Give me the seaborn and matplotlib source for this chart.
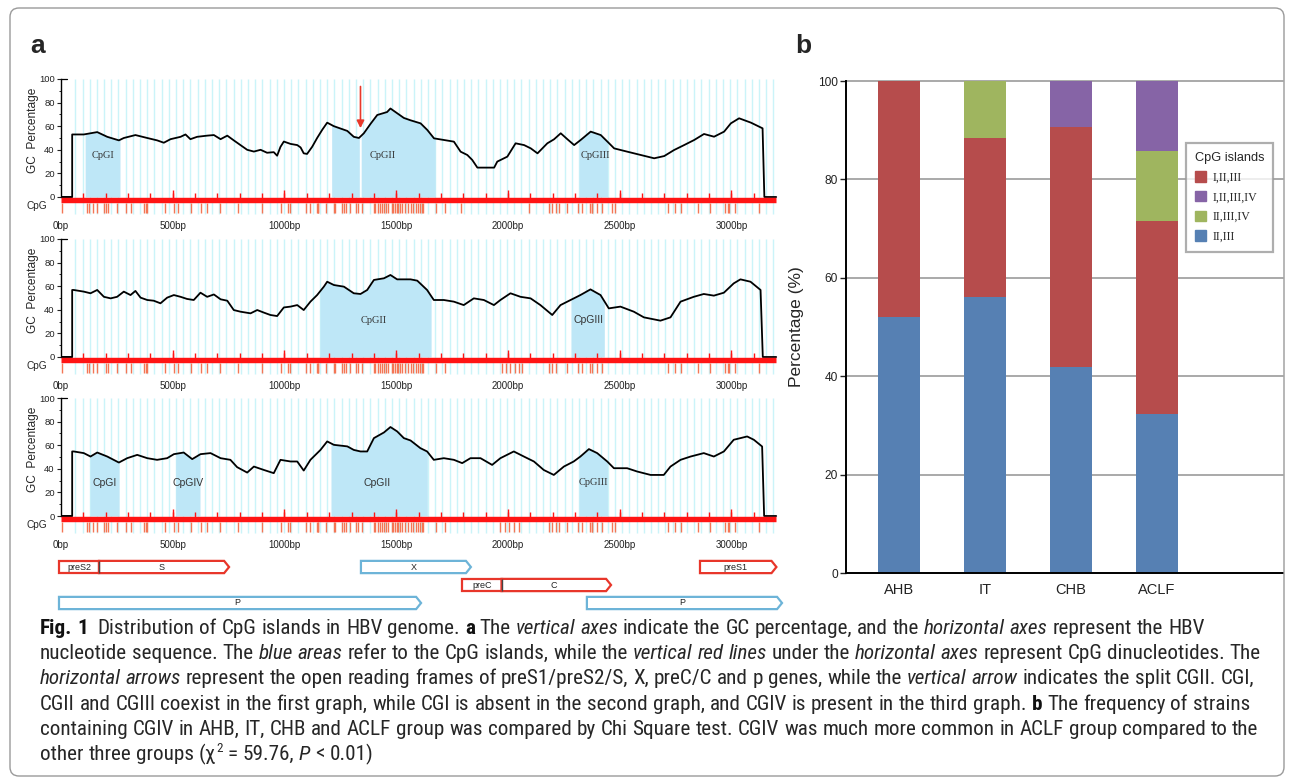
import os
import numpy as np
import pandas as pd
import matplotlib
matplotlib.use("Agg")
import matplotlib.pyplot as plt
import seaborn as sns
from matplotlib.patches import Polygon, FancyBboxPatch, Patch
from matplotlib.transforms import IdentityTransform, blended_transform_factory
from matplotlib import font_manager

# ---------------------------------------------------------------- data ----
# GC percentage curves (position in bp, GC %)
gc1_bp = [0, 50, 50, 57, 102, 162, 207, 259, 281, 333, 386, 430, 460, 490, 535, 557, 579, 609,
          654, 684, 714, 744, 773, 803, 833, 863, 893, 922, 952, 967, 982, 997, 1027, 1057, 1072,
          1086, 1101, 1124, 1146, 1169, 1191, 1221, 1251, 1281, 1310, 1333, 1355, 1385, 1415,
          1459, 1474, 1504, 1534, 1564, 1609, 1639, 1669, 1714, 1758, 1788, 1818, 1840, 1863,
          1938, 1952, 1997, 2034, 2072, 2102, 2132, 2176, 2206, 2236, 2266, 2296, 2325, 2370,
          2415, 2445, 2475, 2534, 2594, 2654, 2699, 2743, 2788, 2833, 2877, 2922, 2967, 2997,
          3034, 3087, 3139, 3147, 3200]
gc1_val = [0, 0, 53, 53, 53, 55, 51, 48, 50, 52.5, 50, 48, 46, 49, 51, 53, 49, 51,
           52, 52.5, 49, 52, 48, 44, 40, 38.5, 40, 37.5, 38, 35, 42.5, 47, 45, 44, 42,
           37, 36.5, 42.6, 50, 57, 63, 60, 58, 56, 51, 50, 54, 62, 69.5,
           72, 75, 71, 67, 65, 62.4, 56.8, 49.7, 48.3, 46.9, 38.4, 35.6, 31.4, 24.9,
           24.9, 30, 34.2, 45.5, 44, 41.2, 37, 45.5, 48.9, 54, 48.9, 44, 48.3, 55.4,
           52.5, 46.9, 41.2, 38.4, 35.6, 32.8, 34.7, 39.8, 44, 48.3, 53.4, 51.1, 55.4, 62.4,
           66.7, 63, 58.2, 0, 0]

gc2_bp = [0, 50, 50, 57, 102, 132, 162, 192, 222, 251, 281, 311, 333, 356, 386, 415, 445, 475,
          505, 535, 564, 594, 624, 654, 684, 714, 744, 773, 803, 848, 878, 908, 937, 967, 997,
          1027, 1057, 1086, 1116, 1146, 1176, 1191, 1221, 1266, 1310, 1340, 1370, 1400, 1445,
          1474, 1504, 1534, 1564, 1594, 1638, 1668, 1713, 1758, 1802, 1847, 1892, 1937, 1966,
          2011, 2056, 2101, 2145, 2198, 2235, 2280, 2324, 2369, 2414, 2451, 2503, 2563, 2608,
          2682, 2727, 2772, 2831, 2876, 2921, 2966, 3010, 3040, 3085, 3130, 3140, 3200]
gc2_val = [0, 0, 56.8, 56.8, 55.4, 54, 56.8, 51, 49.7, 51, 55.4, 52.5, 56, 50.3, 48.3, 47.7, 45.5, 50.3,
           52.5, 51, 49.2, 48.3, 54.5, 51, 53, 48.9, 47.7, 39.8, 38.4, 37, 39.8, 37.6, 35.6, 34.7, 42,
           42.7, 44, 39.8, 46.9, 52.5, 59.6, 63.8, 61, 59.6, 54, 53.4, 56.8, 65.3, 66.7,
           69.5, 65.8, 65.8, 65.8, 64.7, 56.8, 48.3, 48.3, 46.9, 44, 49.7, 48.3, 44, 48.3,
           54, 51, 49.7, 44, 35.6, 44, 48.3, 52.5, 57.3, 52.5, 41.2, 42.7, 38.4, 33.6,
           30.8, 33.6, 46.9, 51, 53.4, 52, 54.5, 62.4, 65.8, 63.8, 56.8, 0, 0]

gc3_bp = [0, 50, 50, 57, 102, 132, 162, 207, 259, 296, 341, 386, 430, 475, 505, 549, 587, 624,
          669, 714, 758, 788, 833, 863, 908, 952, 982, 1027, 1057, 1086, 1116, 1161, 1191, 1221,
          1281, 1310, 1340, 1370, 1400, 1445, 1474, 1504, 1534, 1564, 1608, 1638, 1668, 1713,
          1758, 1795, 1832, 1877, 1929, 1966, 2026, 2071, 2116, 2160, 2205, 2250, 2294, 2324,
          2362, 2399, 2444, 2474, 2533, 2578, 2638, 2697, 2727, 2772, 2817, 2876, 2921, 2966,
          3010, 3070, 3100, 3137, 3146, 3200]
gc3_val = [0, 0, 54.7, 54.7, 53.3, 50.4, 53.8, 50.4, 45.3, 49, 51.8, 49, 47.6, 49, 52.4, 53.8, 48.2, 52.4,
           53.3, 49, 47.6, 41.4, 36.8, 41.9, 39, 36.3, 47.6, 46.2, 46.2, 38.5, 47.6, 56, 63.2, 60.3,
           59, 56, 54.7, 54.7, 66, 70.8, 75.4, 71.7, 66, 64, 57.5, 54.7, 47.6, 49,
           47.6, 44.8, 49, 49, 43.3, 49, 54.7, 50.4, 46.2, 39, 34.8, 41.9, 46.2, 50.4,
           56.7, 53.3, 46.2, 40.5, 40.5, 37.7, 34.8, 34.8, 41.9, 47.6, 50.4, 53.3, 50.4, 54.7,
           64.6, 67.4, 64.6, 58.9, 0, 0]

# CpG dinucleotide positions (bp)
cpg1 = [6, 118, 127, 145, 162, 192, 200, 212, 252, 289, 312, 371, 379, 386, 465, 504, 522, 582,
        625, 652, 710, 791, 901, 984, 1017, 1025, 1095, 1114, 1144, 1149, 1151, 1184, 1221, 1226,
        1256, 1266, 1274, 1293, 1319, 1330, 1346, 1400, 1405, 1420, 1427, 1438, 1447, 1454, 1465,
        1480, 1487, 1494, 1502, 1509, 1517, 1527, 1539, 1554, 1565, 1576, 1588, 1599, 1606, 1614,
        1621, 1676, 1718, 1788, 2095, 2183, 2198, 2213, 2228, 2265, 2315, 2332, 2367, 2374, 2377,
        2397, 2419, 2467, 2479, 2717, 2747, 2773, 2851, 2904, 2971, 2983, 2990, 3016, 3123]
cpg2 = [6, 118, 127, 145, 162, 200, 212, 252, 289, 312, 371, 379, 386, 465, 504, 522, 582,
        625, 652, 710, 791, 901, 984, 1017, 1025, 1095, 1114, 1144, 1149, 1151, 1184, 1221, 1226,
        1256, 1266, 1274, 1293, 1319, 1330, 1346, 1400, 1405, 1420, 1427, 1438, 1447, 1454, 1465,
        1480, 1487, 1494, 1502, 1509, 1517, 1527, 1539, 1554, 1565, 1576, 1588, 1599, 1606, 1614,
        1621, 1676, 1718, 1975, 1990, 2010, 2030, 2050, 2063, 2183, 2198, 2213, 2265, 2315, 2332,
        2367, 2374, 2397, 2419, 2717, 2747, 2773, 2851, 2904, 2971, 2983, 2990, 3016, 3123]
cpg3 = [6, 118, 127, 145, 162, 192, 200, 212, 252, 289, 312, 371, 379, 386, 465, 504, 522, 582,
        625, 652, 710, 791, 901, 984, 1017, 1025, 1095, 1114, 1144, 1149, 1151, 1184, 1221, 1226,
        1256, 1266, 1274, 1293, 1319, 1330, 1346, 1400, 1405, 1420, 1427, 1438, 1447, 1454, 1465,
        1480, 1487, 1494, 1502, 1509, 1517, 1527, 1539, 1554, 1565, 1576, 1588, 1599, 1606, 1614,
        1621, 1676, 1718, 1966, 1985, 2005, 2025, 2048, 2183, 2198, 2213, 2228, 2265, 2315, 2332,
        2367, 2374, 2377, 2397, 2419, 2467, 2479, 2717, 2747, 2773, 2851, 2904, 2971, 2983, 2990,
        3016, 3123]

# CpG islands (start, end in bp) and their labels
isl1_start = [108, 1211, 1343, 2318]
isl1_end = [264, 1337, 1674, 2445]
lab1_text = ["CpGI", "CpGII", "CpGIII"]
lab1_bp = [188, 1439, 2390]
lab1_y = [35, 35, 35]
lab1_serif = [True, True, True]

isl2_start = [1159, 2282]
isl2_end = [1656, 2431]
lab2_text = ["CpGII", "CpGIII"]
lab2_bp = [1401, 2360]
lab2_y = [31, 31]
lab2_serif = [True, False]

isl3_start = [130, 513, 1208, 2318]
isl3_end = [260, 622, 1639, 2445]
lab3_text = ["CpGI", "CpGIV", "CpGII", "CpGIII"]
lab3_bp = [197, 570, 1413, 2382]
lab3_y = [28, 28, 28, 28]
lab3_serif = [False, False, False, True]

split_arrow_bp = 1340          # vertical arrow in graph 1

x_ticks_bp = [0, 500, 1000, 1500, 2000, 2500, 3000]
x_tick_labels = ["0bp", "500bp", "1000bp", "1500bp", "2000bp", "2500bp", "3000bp"]
y_ticks = [0, 20, 40, 60, 80, 100]

# genes (open reading frames)
gene_names = ["preS2", "S", "X", "preC", "C", "preS1", "P", "P"]
gene_start = [-9, 170, 1342, 1794, 1971, 2859, -9, 2353]
gene_end = [170, 752, 1834, 1971, 2461, 3201, 1611, 3226]
gene_row = [0, 0, 0, 1, 1, 0, 2, 2]
gene_color = ["red", "red", "blue", "red", "red", "red", "blue", "blue"]
gene_arrow = [False, True, True, False, True, True, True, True]

# panel b: stacked percentages
groups = ["AHB", "IT", "CHB", "ACLF"]
pct_II_III = [52.0, 56.0, 41.8, 32.4]
pct_I_II_III = [48.0, 32.4, 48.9, 39.1]
pct_II_III_IV = [0.0, 11.6, 0.0, 14.2]
pct_I_II_III_IV = [0.0, 0.0, 9.3, 14.3]
legend_labels = ["I,II,III", "I,II,III,IV", "II,III,IV", "II,III"]

# ------------------------------------------------------------- styling ----
sns.set_theme(style="white")
plt.rcParams["font.family"] = ["Liberation Sans", "DejaVu Sans"]

W, H = 1292, 783
fig = plt.figure(figsize=(W / 100, H / 100), dpi=100)
fig.patch.set_facecolor("white")

C_BLUE_BAR = "#5680b3"
C_RED_BAR = "#b64c4c"
C_GREEN_BAR = "#9fb55f"
C_PURPLE_BAR = "#8664a6"
C_FILL = "#bee7f7"
C_GRID = "#cbf4f9"
C_RED = "#ff1414"
C_CPG = "#f47655"

AX_L = 61
PPB = 0.2235                       # pixels per bp
XMAX = 3215
AX_W = XMAX * PPB


def gc_axes(top_px, zero_px):
    ppu = (zero_px - top_px) / 100.0
    bottom_px = zero_px + 15 * ppu
    ax = fig.add_axes([AX_L / W, 1 - bottom_px / H, AX_W / W, (bottom_px - top_px) / H])
    ax.set_xlim(0, XMAX)
    ax.set_ylim(-15, 100)
    ax.set_facecolor("none")
    return ax


def draw_gc(ax, bp, val, cpg, starts, ends, labels, lab_bp, lab_y, lab_serif):
    bp = np.asarray(bp, float)
    val = np.asarray(val, float)
    ax.vlines(np.arange(64, 3200, 32.2), -14, 100, color=C_GRID, lw=1.0, zorder=0)
    for a, b in zip(starts, ends):
        inner = bp[(bp > a) & (bp < b)]
        xs = np.concatenate([[a], inner, [b]])
        ys = np.interp(xs, bp, val)
        ax.fill_between(xs, 0, ys, color=C_FILL, lw=0, zorder=1)
    for t, xb, yb, serif in zip(labels, lab_bp, lab_y, lab_serif):
        fam = ["Liberation Serif", "DejaVu Serif"] if serif else ["Liberation Sans", "DejaVu Sans"]
        ax.text(xb, yb, t, ha="center", va="center", fontsize=7.5, family=fam,
                color="#333333", zorder=2)
    df = pd.DataFrame({"bp": bp, "gc": val})
    sns.lineplot(data=df, x="bp", y="gc", ax=ax, color="black", lw=1.3,
                 estimator=None, sort=False, zorder=3)
    ax.hlines(-2.3, 0, 3200, color=C_RED, lw=3.9, zorder=4)
    ax.vlines(np.arange(100, 3200, 100), -2.3, 3.4, color=C_RED, lw=1.0, zorder=4)
    ax.vlines(np.arange(500, 3200, 500), -2.3, 5.6, color=C_RED, lw=1.0, zorder=4)
    ax.vlines(cpg, -4.8, -13.8, color=C_CPG, lw=1.0, zorder=4)
    for s in ["top", "right", "bottom"]:
        ax.spines[s].set_visible(False)
    ax.spines["left"].set_bounds(0, 100)
    ax.spines["left"].set_color("black")
    ax.spines["left"].set_linewidth(1.0)
    ax.set_yticks(y_ticks)
    ax.set_yticks([10, 30, 50, 70, 90], minor=True)
    ax.tick_params(axis="y", which="major", direction="out", length=3, width=0.8,
                   labelsize=6.8, pad=1.5, colors="#222222", left=True)
    ax.tick_params(axis="y", which="minor", direction="out", length=1.8, width=0.7,
                   left=True)
    ax.set_xticks(x_ticks_bp)
    ax.set_xticklabels(x_tick_labels)
    ax.tick_params(axis="x", length=0, labelsize=7, pad=4.5, colors="#222222")
    ax.set_xlabel("")
    ax.set_ylabel("")
    ax.plot([0, 25], [100, 100], color="black", lw=0.9, clip_on=False)
    ax.plot([0, 50], [0, 0], color="black", lw=1.1, zorder=3)
    ax.text(-0.039, 0.625, "GC  Percentage", rotation=90, transform=ax.transAxes,
            ha="center", va="center", fontsize=8.6)
    tr = blended_transform_factory(ax.transAxes, ax.transData)
    ax.text(-0.033, -7.8, "CpG", transform=tr, ha="center", va="center", fontsize=7.3)


ax1 = gc_axes(79, 197)
draw_gc(ax1, gc1_bp, gc1_val, cpg1, isl1_start, isl1_end, lab1_text, lab1_bp, lab1_y, lab1_serif)
ax1.vlines(split_arrow_bp, 0, 49, color="white", lw=1.0, zorder=1.5)
ax1.annotate("", xy=(split_arrow_bp, 56), xytext=(split_arrow_bp, 96),
             arrowprops=dict(arrowstyle="-|>", color="#e8382a", lw=1.2, mutation_scale=11))

ax2 = gc_axes(239, 357)
draw_gc(ax2, gc2_bp, gc2_val, cpg2, isl2_start, isl2_end, lab2_text, lab2_bp, lab2_y, lab2_serif)

ax3 = gc_axes(398, 516)
draw_gc(ax3, gc3_bp, gc3_val, cpg3, isl3_start, isl3_end, lab3_text, lab3_bp, lab3_y, lab3_serif)

# ---------------------------------------------------------- gene arrows ----
axg = fig.add_axes([AX_L / W, 1 - 615 / H, AX_W / W, 60 / H])
axg.set_xlim(0, XMAX)
axg.set_ylim(2.667, -0.667)
axg.axis("off")
tip = 22
hh = 0.34
col_map = {"red": "#e8362a", "blue": "#6db4d8"}
for name, s, e, r, c, arr in zip(gene_names, gene_start, gene_end, gene_row, gene_color,
                                 gene_arrow):
    if arr:
        pts = [(s, r - hh), (e - tip, r - hh), (e, r), (e - tip, r + hh), (s, r + hh)]
    else:
        pts = [(s, r - hh), (e, r - hh), (e, r + hh), (s, r + hh)]
    poly = Polygon(pts, closed=True, fc="white", ec=col_map[c], lw=1.6, clip_on=False,
                   joinstyle="miter")
    axg.add_patch(poly)
    axg.text((s + e - (tip if arr else 0)) / 2, r, name, ha="center", va="center",
             fontsize=6.5, color="#222222")
for name, s, r in zip(gene_names, gene_start, gene_row):
    if name in ("S", "C"):
        axg.vlines(s, r - hh, r + hh, color="#444444", lw=1.0)

# ------------------------------------------------------------- panel b ----
axb = fig.add_axes([846 / W, 1 - 573 / H, (1283 - 846) / W, (573 - 81) / H])
cum1 = np.array(pct_II_III)
cum2 = cum1 + np.array(pct_I_II_III)
cum3 = cum2 + np.array(pct_II_III_IV)
cum4 = cum3 + np.array(pct_I_II_III_IV)
layers = [(cum4, C_PURPLE_BAR), (cum3, C_GREEN_BAR), (cum2, C_RED_BAR), (cum1, C_BLUE_BAR)]
for cum, col in layers:
    sns.barplot(x=groups, y=cum, color=col, saturation=1, width=0.49, ax=axb,
                edgecolor="none", linewidth=0)
axb.set_xlim(-0.616, 4.465)
axb.set_ylim(0, 100)
axb.set_yticks([0, 20, 40, 60, 80, 100])
axb.yaxis.grid(True, color="#a9a9a9", lw=1.4)
axb.set_axisbelow(True)
for gl in axb.yaxis.get_gridlines():
    gl.set_clip_on(False)
for s in ["top", "right"]:
    axb.spines[s].set_visible(False)
for s in ["left", "bottom"]:
    axb.spines[s].set_color("black")
    axb.spines[s].set_linewidth(1.4)
axb.tick_params(axis="y", direction="out", length=4, width=1.0, labelsize=8.6, pad=2,
                left=True, colors="#222222")
axb.tick_params(axis="x", length=0, labelsize=10.5, pad=7, colors="#222222")
axb.set_ylabel("Percentage (%)", fontsize=12.5)
axb.yaxis.set_label_coords(-0.095, 0.5)
axb.set_xlabel("")

handles = [Patch(color=C_RED_BAR), Patch(color=C_PURPLE_BAR), Patch(color=C_GREEN_BAR),
           Patch(color=C_BLUE_BAR)]
leg = fig.legend(handles, legend_labels, title="CpG islands", loc="upper left",
                 bbox_to_anchor=(1180 / W, 1 - 137 / H), frameon=True, fancybox=False,
                 prop={"family": ["Liberation Serif", "DejaVu Serif"], "size": 8.6},
                 title_fontsize=9.2, handlelength=0.95, handleheight=0.95,
                 handletextpad=0.5, labelspacing=0.62, borderpad=0.75)
leg.get_frame().set_edgecolor("#9a9a9a")
leg.get_frame().set_linewidth(1.6)
leg._legend_box.align = "left"

# ------------------------------------------------------- panel letters ----
fig.text(30 / W, 1 - 46 / H, "a", fontsize=19, fontweight="bold", va="center", ha="left")
fig.text(795 / W, 1 - 46 / H, "b", fontsize=19, fontweight="bold", va="center", ha="left")

# ------------------------------------------------------------- caption ----
# look for a condensed sans family for the caption
_files = {}
for f in font_manager.fontManager.ttflist:
    _files[os.path.basename(f.fname).lower()] = f.fname

_cond_sets = [
    ("liberationsansnarrow-regular.ttf", "liberationsansnarrow-bold.ttf",
     "liberationsansnarrow-italic.ttf"),
    ("robotocondensed-regular.ttf", "robotocondensed-bold.ttf", "robotocondensed-italic.ttf"),
    ("notosans-condensed.ttf", "notosans-condensedbold.ttf", "notosans-condenseditalic.ttf"),
    ("opensans-condregular.ttf", "opensans-condbold.ttf", "opensans-condlightitalic.ttf"),
    ("opensans_condensed-regular.ttf", "opensans_condensed-bold.ttf",
     "opensans_condensed-italic.ttf"),
    ("dejavusanscondensed.ttf", "dejavusanscondensed-bold.ttf",
     "dejavusanscondensed-oblique.ttf"),
]
CAP_FILES = None
for reg, bold, ital in _cond_sets:
    if reg in _files:
        CAP_FILES = (_files[reg], _files.get(bold, _files[reg]), _files.get(ital, _files[reg]))
        break
if CAP_FILES is None:
    for k, v in sorted(_files.items()):
        if "condensed" in k and "extra" not in k and "semi" not in k and "ultra" not in k:
            if "bold" not in k and "italic" not in k and "light" not in k and "black" not in k:
                CAP_FILES = (v, v, v)
                break

caption_lines = [
    [("Fig. 1", "b"), ("  Distribution of CpG islands in HBV genome. ", "n"), ("a", "b"),
     (" The ", "n"), ("vertical axes", "i"), (" indicate the GC percentage, and the ", "n"),
     ("horizontal axes", "i"), (" represent the HBV", "n")],
    [("nucleotide sequence. The ", "n"), ("blue areas", "i"),
     (" refer to the CpG islands, while the ", "n"), ("vertical red lines", "i"),
     (" under the ", "n"), ("horizontal axes", "i"), (" represent CpG dinucleotides. The", "n")],
    [("horizontal arrows", "i"),
     (" represent the open reading frames of preS1/preS2/S, X, preC/C and p genes, while the ", "n"),
     ("vertical arrow", "i"), (" indicates the split CGII. CGI,", "n")],
    [("CGII and CGIII coexist in the first graph, while CGI is absent in the second graph, "
      "and CGIV is present in the third graph. ", "n"), ("b", "b"),
     (" The frequency of strains", "n")],
    [("containing CGIV in AHB, IT, CHB and ACLF group was compared by Chi Square test. "
      "CGIV was much more common in ACLF group compared to the", "n")],
    [("other three groups (χ", "n"), ("2", "sup"), (" = 59.76, ", "n"), ("P", "i"),
     (" < 0.01)", "n")],
]
caption_baselines = [634, 659, 684, 710, 735, 760]

renderer = fig.canvas.get_renderer()


def style_kw(code, size):
    kw = dict(fontsize=size, color="#262626")
    if CAP_FILES is not None:
        path = CAP_FILES[0]
        if code == "b":
            path = CAP_FILES[1]
        elif code == "i":
            path = CAP_FILES[2]
        kw["fontproperties"] = font_manager.FontProperties(fname=path, size=size)
        kw.pop("fontsize")
        if code == "sup":
            kw["fontproperties"] = font_manager.FontProperties(fname=CAP_FILES[0], size=size * 0.62)
    else:
        kw["family"] = ["Liberation Sans", "DejaVu Sans"]
        if code == "b":
            kw["fontweight"] = "bold"
        elif code == "i":
            kw["fontstyle"] = "italic"
        elif code == "sup":
            kw["fontsize"] = size * 0.62
    if code == "b":
        kw["color"] = "#111111"
    return kw


def text_width(s, code, size):
    t = fig.text(0, 0, s, **style_kw(code, size))
    w = t.get_window_extent(renderer).width
    t.remove()
    return w


def tokens(runs):
    out = []
    for text, code in runs:
        parts = text.split(" ")
        for j, p in enumerate(parts):
            if j > 0:
                out.append((" ", code))
            if p:
                out.append((p, code))
    return out


def space_w(code, size):
    return text_width("x x", code, size) - text_width("xx", code, size)


def line_width(runs, size):
    total = 0.0
    for tok, code in tokens(runs):
        total += space_w(code, size) if tok == " " else text_width(tok, code, size)
    return total


base = 10.0
w5 = line_width(caption_lines[4], base)
CAP_SIZE = min(base * (1250 - 40) / w5, 16.5)

for runs, yb in zip(caption_lines, caption_baselines):
    x = 40.0
    for tok, code in tokens(runs):
        if tok == " ":
            x += space_w(code, CAP_SIZE)
            continue
        dy = -CAP_SIZE * 0.55 if code == "sup" else 0.0
        fig.text(x / W, 1 - (yb + dy) / H, tok, ha="left", va="baseline",
                 **style_kw(code, CAP_SIZE))
        x += text_width(tok, code, CAP_SIZE)

# --------------------------------------------------------------- border ----
border = FancyBboxPatch((10, H - 776), 1274, 768, boxstyle="round,pad=0,rounding_size=9",
                        transform=IdentityTransform(), fill=False, ec="#9a9a9a", lw=1.0)
fig.patches.append(border)

fig.savefig("out.png", dpi=100, facecolor="white")
